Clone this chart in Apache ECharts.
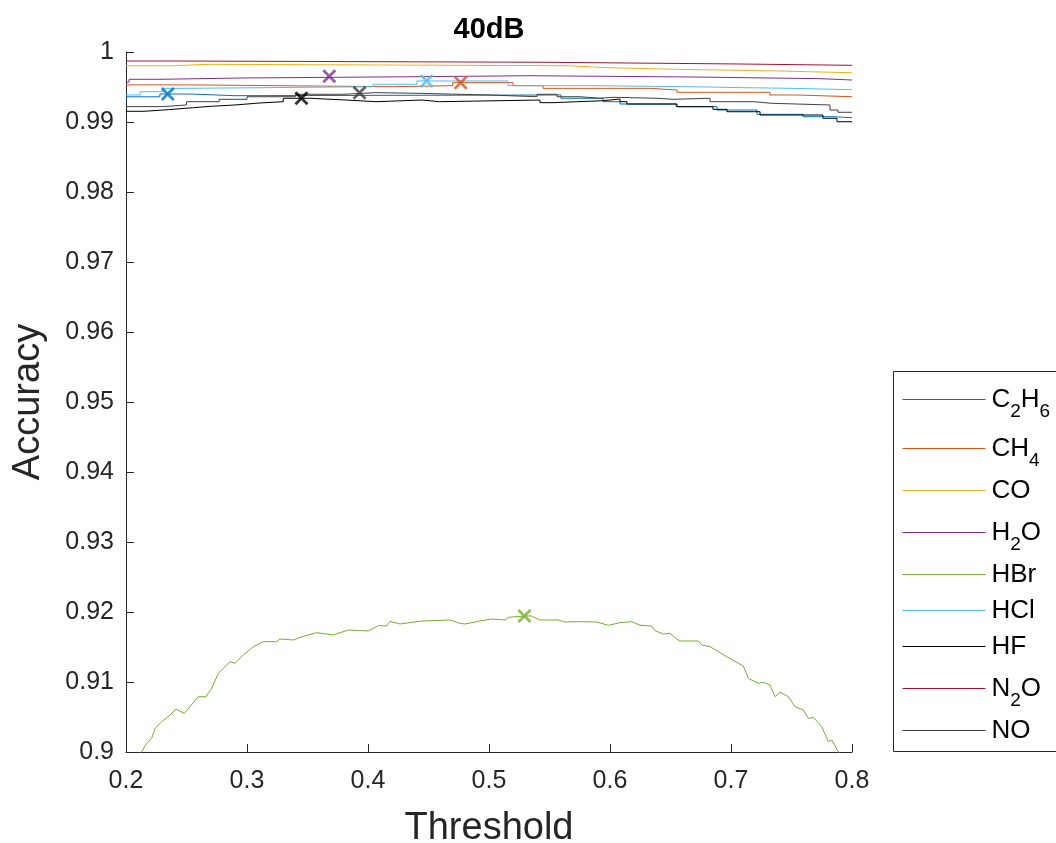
<!DOCTYPE html>
<html><head><meta charset="utf-8">
<script src="https://cdn.jsdelivr.net/npm/echarts@6/dist/echarts.min.js"></script>
<style>html,body{margin:0;padding:0;background:#fff}#c{width:1056px;height:843px}</style>
</head><body><div id="c"></div>
<script>
// ---- data ----
const seriesNames = ['C2H6','CH4','CO','H2O','HBr','HCl','HF','N2O','NO'];
const legendLabels = ['{m|C}{s|2}{m|H}{s|6}','{m|CH}{s|4}','{m|CO}','{m|H}{s|2}{m|O}','{m|HBr}','{m|HCl}','{m|HF}','{m|N}{s|2}{m|O}','{m|NO}'];
const xTicks = [0.2,0.3,0.4,0.5,0.6,0.7,0.8];
const yTicks = [0.9,0.91,0.92,0.93,0.94,0.95,0.96,0.97,0.98,0.99,1];

const C2H6 = [[0.2,0.9936],[0.228,0.9940],[0.253,0.99376],[0.29,0.99386],[0.5595,0.99339],[0.5942,0.9929],[0.6083,0.99257],[0.6545,0.99219],[0.6884,0.99171],[0.7215,0.9911],[0.7595,0.99076],[0.7843,0.99061],[0.8,0.99061]];
const CH4 = [[0.2,0.9953],[0.2545,0.99504],[0.42,0.99519],[0.47,0.99562],[0.5198,0.99519],[0.5446,0.99481],[0.633,0.99457],[0.6554,0.99424],[0.7322,0.99386],[0.7545,0.99361],[0.8,0.99361]];
const CO = [[0.2,0.99804],[0.2388,0.99824],[0.2678,0.99804],[0.5645,0.99776],[0.5983,0.99755],[0.6479,0.99729],[0.7388,0.99704],[0.8,0.99704]];
const H2O = [[0.2,0.9957],[0.2025,0.9961],[0.2281,0.99629],[0.2967,0.99647],[0.4389,0.99661],[0.5339,0.99643],[0.6686,0.99619],[0.7736,0.996],[0.8,0.996]];
const HBr = [[0.2,0.8985],[0.213,0.9000],[0.217,0.90124],[0.2212,0.90195],[0.224,0.90338],[0.2295,0.90433],[0.2364,0.90529],[0.2413,0.90614],[0.2482,0.90552],[0.2598,0.9079],[0.2661,0.9079],[0.2708,0.9091],[0.2763,0.91124],[0.2804,0.91195],[0.286,0.9129],[0.2901,0.91267],[0.2969,0.91386],[0.3052,0.91505],[0.3135,0.91576],[0.3245,0.91576],[0.3273,0.91614],[0.3383,0.916],[0.3438,0.91638],[0.3576,0.91705],[0.3713,0.91671],[0.3837,0.91743],[0.4003,0.91729],[0.4085,0.91805],[0.4154,0.918],[0.4182,0.91867],[0.4264,0.91829],[0.4444,0.91871],[0.4678,0.91886],[0.476,0.91838],[0.4802,0.91829],[0.4912,0.91867],[0.5022,0.919],[0.5132,0.91886],[0.516,0.91924],[0.5293,0.91943],[0.5353,0.91943],[0.5421,0.91886],[0.5573,0.91886],[0.5628,0.91857],[0.5725,0.91862],[0.589,0.91857],[0.5986,0.9181],[0.6083,0.91848],[0.618,0.91862],[0.6248,0.9181],[0.6345,0.918],[0.6372,0.91733],[0.6441,0.91686],[0.6496,0.91695],[0.6573,0.91586],[0.673,0.91586],[0.6758,0.91529],[0.6826,0.91505],[0.6964,0.91362],[0.7102,0.91229],[0.7143,0.91052],[0.7226,0.90981],[0.7267,0.90995],[0.7322,0.90957],[0.7364,0.9079],[0.7405,0.90852],[0.7474,0.9079],[0.7529,0.90648],[0.7598,0.906],[0.7639,0.90481],[0.7681,0.90495],[0.775,0.90362],[0.7805,0.90148],[0.7833,0.90171],[0.7888,0.9000],[0.8,0.8985]];
const HCl = [[0.2,0.99386],[0.2116,0.99433],[0.2306,0.99481],[0.2488,0.99504],[0.4041,0.99539],[0.4405,0.99586],[0.5157,0.99519],[0.586,0.995],[0.6802,0.9949],[0.7107,0.99481],[0.7504,0.99461],[0.8,0.99461]];
const HF = [[0.2,0.99153],[0.215,0.99176],[0.235,0.99204],[0.255,0.99224],[0.27,0.99243],[0.29,0.99271],[0.31,0.9929],[0.33,0.99339],[0.352,0.99314],[0.3818,0.9929],[0.4066,0.99314],[0.4446,0.9929],[0.459,0.99314],[0.5421,0.99276],[0.5529,0.99304],[0.5942,0.99329],[0.6083,0.9929],[0.614,0.99257],[0.6554,0.99219],[0.6851,0.99181],[0.6967,0.99147],[0.724,0.991],[0.776,0.99053],[0.7876,0.99004],[0.8,0.99004]];
const N2O = [[0.2,0.99871],[0.2463,0.99853],[0.5488,0.99829],[0.7058,0.9981],[0.8,0.9981]];
const NO = [[0.2,0.9922],[0.23,0.99243],[0.25,0.9929],[0.277,0.99324],[0.3,0.99361],[0.34,0.99396],[0.38,0.99419],[0.4066,0.9941],[0.4405,0.99386],[0.5,0.99361],[0.5397,0.99396],[0.5562,0.99361],[0.5752,0.99339],[0.5917,0.99353],[0.6025,0.99339],[0.6388,0.99324],[0.6521,0.99339],[0.6826,0.9929],[0.7182,0.99267],[0.7339,0.99243],[0.7818,0.99171],[0.7884,0.99139],[0.8,0.99139]];

// best-threshold markers: [threshold, accuracy, series index]
const maxMarkers = [[0.2345,0.9940,0],[0.4766,0.99562,1],[0.368,0.99653,3],[0.5293,0.91943,4],[0.4485,0.99586,5],[0.345,0.99339,6],[0.393,0.99419,8]];

// ---- style ----
const colors = ['#0072BD','#D95319','#EDB120','#7E2F8E','#77AC30','#4DBEEE','#000000','#A2142F','#404040'];
const seriesData = [C2H6,CH4,CO,H2O,HBr,HCl,HF,N2O,NO];
const legendCenters = [399,448,490,532,574,610,646,688,730];
const FONT = '"Liberation Sans", Arial, Helvetica, sans-serif';
const AX = '#262626';
const X_SYM = 'path://M0,1.4 L1.4,0 L5,3.6 L8.6,0 L10,1.4 L6.4,5 L10,8.6 L8.6,10 L5,6.4 L1.4,10 L0,8.6 L3.6,5 Z';

const series = seriesNames.map((n, i) => ({
  name: n, type: 'line', data: seriesData[i], step: i === 4 ? false : 'end',
  symbol: 'none', showSymbol: false, clip: true,
  lineStyle: { width: 1, color: colors[i] }, itemStyle: { color: colors[i] },
  z: 2 + i * 0.01, animation: false
}));
series.push({
  name: 'best', type: 'scatter', symbol: X_SYM, symbolSize: 14, z: 5, animation: false,
  data: maxMarkers.map(m => ({ value: [m[0], m[1]], itemStyle: { color: colors[m[2]] } }))
});

const legends = seriesNames.map((n, i) => ({
  data: [n], left: 902, top: legendCenters[i] - 12.5, padding: 0,
  itemWidth: 83, itemHeight: 14, selectedMode: false, itemGap: 0,
  itemStyle: { opacity: 0, color: 'rgba(0,0,0,0)', borderWidth: 0 },
  lineStyle: { width: 1, opacity: 1 },
  formatter: () => legendLabels[i],
  textStyle: { color: '#000', fontFamily: FONT, padding: [0,0,0,1],
    rich: { m: { fontSize: 26, lineHeight: 44, fontFamily: FONT, color: '#000' },
            s: { fontSize: 19, verticalAlign: 'bottom', fontFamily: FONT, color: '#000' } } }
}));

const chart = echarts.init(document.getElementById('c'), null, { renderer: 'canvas' });
chart.setOption({
  backgroundColor: '#fff',
  animation: false,
  title: { text: '40dB', left: 489, top: 15, padding: 0, textAlign: 'center',
    textStyle: { fontFamily: FONT, fontWeight: 'bold', fontSize: 29, color: '#000' } },
  graphic: [{ type: 'rect', z: 0, shape: { x: 893.5, y: 371.5, width: 170, height: 380 },
    style: { fill: '#fff', stroke: AX, lineWidth: 1 } }],
  legend: legends,
  grid: { left: 126, right: 204, top: 52, bottom: 91, containLabel: false, outerBoundsMode: 'none' },
  xAxis: {
    type: 'value', min: xTicks[0], max: xTicks[xTicks.length-1], interval: 0.1,
    name: 'Threshold', nameLocation: 'middle', nameGap: 58,
    nameTextStyle: { fontFamily: FONT, fontSize: 38, color: AX },
    axisLine: { show: true, lineStyle: { color: AX, width: 1 } },
    axisTick: { show: true, inside: true, length: 8, lineStyle: { color: AX } },
    splitLine: { show: false },
    axisLabel: { fontFamily: FONT, fontSize: 25, color: AX, margin: 17, formatter: v => String(+v.toFixed(2)) }
  },
  yAxis: {
    type: 'value', min: yTicks[0], max: yTicks[yTicks.length-1], interval: 0.01,
    name: 'Accuracy', nameLocation: 'middle', nameGap: 78,
    nameTextStyle: { fontFamily: FONT, fontSize: 38, color: AX },
    axisLine: { show: true, lineStyle: { color: AX, width: 1 } },
    axisTick: { show: true, inside: true, length: 8, lineStyle: { color: AX } },
    splitLine: { show: false },
    axisLabel: { fontFamily: FONT, fontSize: 25, color: AX, margin: 12, formatter: v => String(+v.toFixed(2)) }
  },
  series: series
});
</script></body></html>
